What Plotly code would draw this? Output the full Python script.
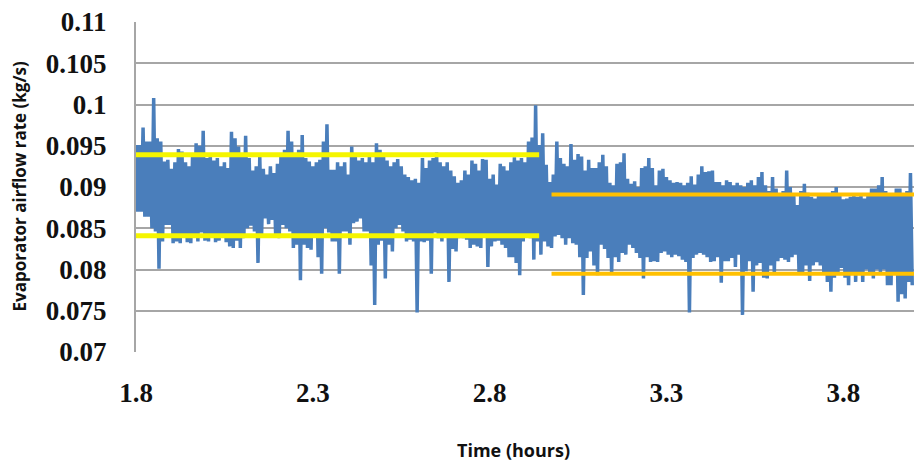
import plotly.graph_objects as go

# ---- data (values in 1e-3 kg/s) ----
T_START = 1.80          # hours, first sample bin
T_STEP = 0.01           # hours per bin (each bin: local max then local min)

airflow_high = [
    95.1, 95.1, 97.2, 95.5, 95.5, 100.8, 95.9, 95.5, 93.1, 93.3,
    92.2, 93.0, 94.6, 94.3, 93.0, 92.5, 94.0, 95.3, 95.0, 96.8,
    93.5, 93.9, 93.2, 93.5, 92.5, 93.0, 92.3, 96.7, 95.9, 94.9,
    94.0, 96.2, 93.5, 92.0, 92.5, 93.7, 92.2, 91.5, 92.5, 91.7,
    92.8, 93.9, 94.5, 96.8, 95.5, 94.0, 94.5, 96.3, 93.5, 93.1,
    92.5, 93.0, 93.3, 95.5, 97.6,
    92.1, 92.1, 93.0, 92.5, 93.0, 91.5, 94.9, 94.0, 93.2, 93.5,
    93.0, 93.8, 93.0, 95.3, 94.5, 94.0, 93.2, 92.5, 93.0, 93.4,
    92.5, 91.5, 91.2, 90.8, 91.0, 90.5, 93.5, 92.3, 93.2, 93.5,
    94.2, 93.0, 92.5, 93.0, 92.0, 91.3, 90.5, 90.8, 92.0, 91.5,
    93.2, 92.8, 92.0, 93.4, 93.3, 91.0, 91.5, 90.3, 92.8, 92.5,
    92.0, 93.0, 93.6, 93.2,
    93.5, 93.0, 95.5, 96.0, 99.9, 95.1, 96.5, 92.7, 90.6, 91.5,
    95.5, 93.5, 92.8, 92.5, 95.2, 93.3, 94.0, 93.7, 92.0, 93.3,
    92.3, 92.3, 93.0, 93.9, 92.5, 90.5, 90.2, 92.8, 93.0, 94.1,
    91.0, 90.4, 90.7, 90.0, 92.3, 92.5, 93.5, 92.3, 90.2, 92.0,
    92.2, 91.2, 90.8, 90.5, 90.6, 90.5, 90.2, 90.5, 91.3, 90.3,
    91.5, 92.5, 91.8, 91.9,
    92.0, 90.6, 90.6, 90.2, 90.8, 90.6, 90.2, 90.5, 90.2, 90.0,
    90.5, 90.8, 90.2, 91.2, 91.8, 90.2, 89.5, 91.2, 89.8, 89.0,
    89.5, 92.0, 90.0, 89.0, 87.8, 89.5, 90.4, 89.3, 88.8, 88.6,
    89.0, 89.2, 89.0, 89.2, 89.5, 90.0, 89.2, 88.5, 88.6, 88.8,
    89.0, 88.8, 89.0, 88.6, 89.2, 89.8, 89.8, 90.2, 91.2, 89.5,
    89.2, 89.0, 89.8, 89.8, 89.0, 89.5, 91.7,
]

airflow_low = [
    87.0, 87.0, 86.4, 86.4, 85.0, 84.6, 80.1, 83.4, 85.4, 85.4,
    83.2, 83.4, 83.2, 84.2, 83.3, 83.2, 84.0, 83.4, 84.5, 83.5,
    83.4, 84.0, 83.3, 83.5, 84.0, 83.3, 82.8, 82.6, 83.5, 82.6,
    83.8, 85.0, 85.3, 84.6, 80.8, 84.0, 86.2, 85.5, 86.0, 84.0,
    83.8, 85.4, 85.0, 84.6, 82.6, 83.0, 78.7, 83.0, 82.6, 82.4,
    84.0, 81.5, 79.5, 85.0, 84.5,
    83.4, 83.4, 79.5, 84.6, 84.6, 83.0, 85.6, 85.8, 86.2, 84.6,
    84.6, 80.5, 75.7, 83.0, 83.5, 78.9, 83.0, 82.2, 85.0, 85.4,
    84.6, 83.4, 83.6, 83.4, 74.8, 83.4, 83.3, 83.5, 79.5, 84.5,
    83.8, 83.4, 84.0, 78.5, 82.5, 82.2, 83.8, 83.8, 83.6, 82.6,
    83.0, 82.8, 82.6, 84.0, 80.3, 82.8, 83.4, 83.5, 83.0, 82.6,
    81.5, 81.5, 80.8, 79.3,
    83.4, 84.2, 83.8, 81.2, 83.4, 81.8, 83.4, 82.8, 82.6, 84.0,
    84.2, 83.8, 83.0, 83.8, 83.2, 83.0, 81.5, 76.9, 81.4, 82.2,
    80.5, 79.3, 83.0, 82.5, 81.4, 79.5, 81.5, 80.9, 82.0, 81.8,
    83.0, 82.6, 82.0, 81.4, 78.9, 81.5, 80.9, 81.0, 80.9, 82.0,
    82.2, 81.8, 81.5, 81.8, 81.6, 81.2, 80.9, 74.8, 81.4, 81.8,
    82.0, 81.8, 81.5, 80.9,
    81.0, 81.5, 78.4, 81.0, 81.0, 81.4, 80.3, 81.8, 74.5, 79.8,
    81.0, 77.3, 80.5, 80.8, 79.0, 78.9, 80.5, 79.5, 81.0, 81.4,
    81.2, 80.9, 81.5, 81.8, 79.5, 79.7, 80.5, 78.6, 80.5, 80.9,
    80.5, 79.7, 78.5, 77.3, 79.0, 79.7, 80.2, 79.0, 78.1, 79.5,
    78.5, 79.5, 78.5, 80.0, 79.7, 78.9, 80.0, 79.7, 80.0, 78.1,
    78.1, 79.5, 76.1, 77.0, 76.5, 78.5, 78.1,
]

# reference band lines (kg/s) and their time spans (hours)
band1_time = [1.80, 2.94]
band1_upper = 0.0939
band1_lower = 0.0841
band2_time = [2.975, 4.00]
band2_upper = 0.0891
band2_lower = 0.0795

y_tick_vals = [0.07, 0.075, 0.08, 0.085, 0.09, 0.095, 0.1, 0.105, 0.11]
y_tick_text = ["0.07", "0.075", "0.08", "0.085", "0.09", "0.095", "0.1", "0.105", "0.11"]
x_tick_vals = [1.8, 2.3, 2.8, 3.3, 3.8]
x_tick_text = ["1.8", "2.3", "2.8", "3.3", "3.8"]

# ---- build the trace ----
xs, ys = [], []
for i, (hi, lo) in enumerate(zip(airflow_high, airflow_low)):
    t = T_START + i * T_STEP
    xs += [t, t + T_STEP / 2]
    ys += [hi / 1000.0, lo / 1000.0]

fig = go.Figure()
fig.add_trace(go.Scatter(x=xs, y=ys, mode="lines",
                         line=dict(color="#4A7EBB", width=3.5, simplify=False),
                         showlegend=False, hoverinfo="skip"))
for yv in (band1_upper, band1_lower):
    fig.add_trace(go.Scatter(x=band1_time, y=[yv, yv], mode="lines",
                             line=dict(color="#F5F500", width=5),
                             showlegend=False))
for yv in (band2_upper, band2_lower):
    fig.add_trace(go.Scatter(x=band2_time, y=[yv, yv], mode="lines",
                             line=dict(color="#FFC000", width=4),
                             showlegend=False))

tick_font = dict(family="Liberation Serif", size=27, color="#111111", weight="bold")

fig.update_layout(
    width=914, height=461,
    margin=dict(l=136, r=0, t=22, b=109),
    paper_bgcolor="white", plot_bgcolor="white",
    xaxis=dict(range=[1.8, 4.0], tickvals=x_tick_vals, ticktext=x_tick_text,
               showgrid=False, zeroline=False, showline=False, automargin=False,
               tickfont=tick_font, ticklabelstandoff=22),
    yaxis=dict(range=[0.07, 0.11], tickvals=y_tick_vals, ticktext=y_tick_text,
               showgrid=True, gridcolor="#A6A6A6", gridwidth=1.5, automargin=False,
               zeroline=False, showline=True, linecolor="#A6A6A6", linewidth=2,
               tickfont=tick_font, ticklabelstandoff=22),
    annotations=[
        dict(text="<b>Evaporator airflow rate (kg/s)</b>", xref="paper", yref="paper",
             x=-0.151, y=0.5, xanchor="center", yanchor="middle", textangle=-90,
             showarrow=False, font=dict(family="Open Sans", size=17, color="#111111")),
        dict(text="<b>Time (hours)</b>", xref="paper", yref="paper",
             x=0.485, y=-0.297, xanchor="center", yanchor="middle",
             showarrow=False, font=dict(family="Open Sans", size=18, color="#111111")),
    ],
)

fig.write_html("out.html", config={"displayModeBar": False},
               post_script="document.body.style.margin='0';")
